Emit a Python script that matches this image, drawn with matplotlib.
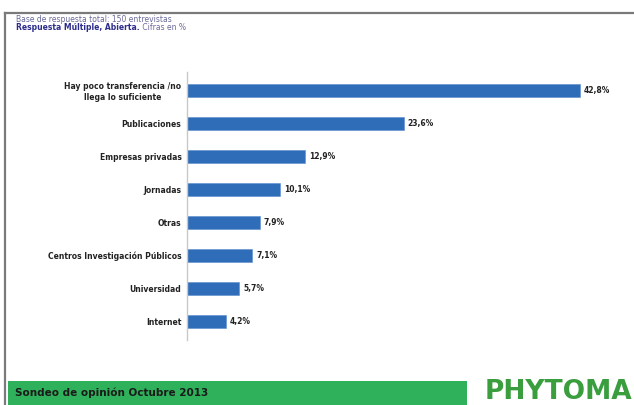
import matplotlib
matplotlib.use("Agg")
import matplotlib.pyplot as plt
from matplotlib.lines import Line2D
from matplotlib.patches import Rectangle

# Data
categories = [
    "Hay poco transferencia /no\nllega lo suficiente",
    "Publicaciones",
    "Empresas privadas",
    "Jornadas",
    "Otras",
    "Centros Investigación Públicos",
    "Universidad",
    "Internet",
]
values = [42.8, 23.6, 12.9, 10.1, 7.9, 7.1, 5.7, 4.2]
value_labels = ["42,8%", "23,6%", "12,9%", "10,1%", "7,9%", "7,1%", "5,7%", "4,2%"]

W, H = 634, 405
fig = plt.figure(figsize=(W / 100, H / 100), dpi=100)
fig.patch.set_facecolor("white")

bar_color = "#2F6DB9"

# axes in pixel terms: left 187, right 600, top 72, bottom 340
ax = fig.add_axes([187 / W, 1 - 340 / H, (600 - 187) / W, (340 - 72) / H])
ypos = list(range(len(categories)))
ax.barh(ypos, values, height=0.4, color=bar_color, edgecolor="#5b8fd0", linewidth=0.4)
ax.set_xlim(0, 45)
ax.set_ylim(7.55, -0.55)
ax.set_yticks(ypos)
ax.set_yticklabels(categories, fontsize=5.5, fontweight="bold", color="#222222")
for t in ax.get_yticklabels():
    t.set_multialignment("center")
ax.tick_params(axis="y", length=0, pad=4)
ax.set_xticks([])
for side in ["top", "right", "bottom"]:
    ax.spines[side].set_visible(False)
ax.spines["left"].set_color("#c8c8c8")
ax.spines["left"].set_linewidth(1.0)

for y, v, lab in zip(ypos, values, value_labels):
    ax.annotate(lab, xy=(v, y), xytext=(3, 0), textcoords="offset points",
                va="center", ha="left", fontsize=5.5, fontweight="bold", color="#222222")

# frame lines (top and left)
fig.add_artist(Line2D([5 / W, 1], [1 - 13 / H, 1 - 13 / H], transform=fig.transFigure,
                      color="#7a7a7a", linewidth=1.6))
fig.add_artist(Line2D([5 / W, 5 / W], [0, 1 - 13 / H], transform=fig.transFigure,
                      color="#7a7a7a", linewidth=1.6))

# header notes
fig.text(16 / W, 1 - 19 / H, "Base de respuesta total: 150 entrevistas", fontsize=5.5,
         color="#6a6a9a", va="center", ha="left")
t1 = fig.text(16 / W, 1 - 28 / H, "Respuesta Múltiple, Abierta.", fontsize=5.5,
              fontweight="bold", color="#2d2d8c", va="center", ha="left")
ax.annotate(" Cifras en %", xy=(1, 0), xycoords=t1, va="bottom", ha="left",
            fontsize=5.5, color="#6a6a9a")

# bottom green banner
fig.add_artist(Rectangle((8 / W, 0), (467 - 8) / W, 24 / H, transform=fig.transFigure,
                         facecolor="#2EB15A", edgecolor="none"))
fig.text(15 / W, 12 / H, "Sondeo de opinión Octubre 2013", fontsize=7.5, fontweight="bold",
         color="#1a1a1a", va="center", ha="left")

# logo text
fig.text(558 / W, 13 / H, "PHYTOMA", fontsize=19, fontweight="bold", color="#3A9E3E",
         va="center", ha="center")

fig.savefig("out.png", dpi=100, facecolor="white")
